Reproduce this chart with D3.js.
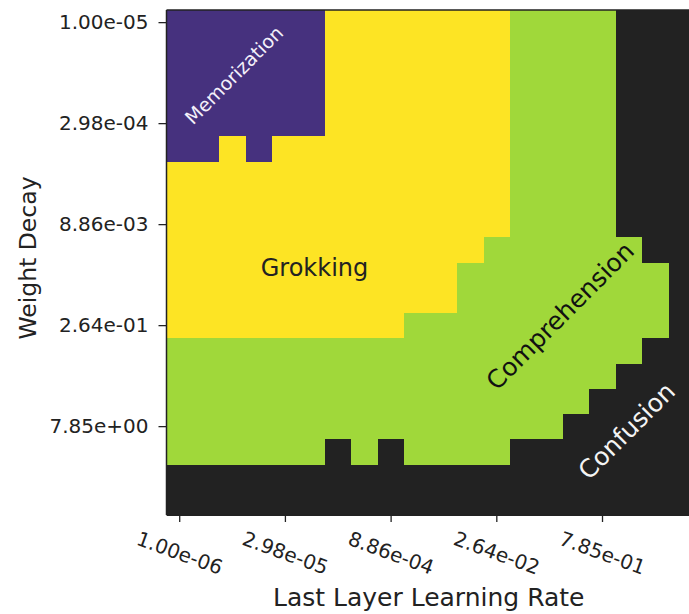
<!DOCTYPE html>
<html>
<head>
<meta charset="utf-8">
<script src="https://cdn.jsdelivr.net/npm/d3@7"></script>
<style>
  html, body { margin: 0; padding: 0; background: #fff; }
  svg { display: block; }
  text { font-family: "DejaVu Sans", sans-serif; }
</style>
</head>
<body>
<svg id="chart" width="689" height="614"></svg>
<script>
// Column values: last layer learning rate (20 log-spaced settings)
const learningRates = ["1.00e-06","2.34e-06","5.46e-06","1.27e-05","2.98e-05","6.95e-05","1.62e-04","3.79e-04",
  "8.86e-04","2.07e-03","4.83e-03","1.13e-02","2.64e-02","6.16e-02","1.44e-01","3.36e-01",
  "7.85e-01","1.83e+00","4.28e+00","1.00e+01"];
// Row values: weight decay (20 log-spaced settings)
const weightDecays = ["1.00e-05","2.34e-05","5.46e-05","1.27e-04","2.98e-04","6.95e-04","1.62e-03","3.79e-03",
  "8.86e-03","2.07e-02","4.83e-02","1.13e-01","2.64e-01","6.16e-01","1.44e+00","3.36e+00",
  "7.85e+00","1.83e+01","4.28e+01","1.00e+02"];
// Tick labels shown on the axes
const xTickLabels = ["1.00e-06","2.98e-05","8.86e-04","2.64e-02","7.85e-01"];
const yTickLabels = ["1.00e-05","2.98e-04","8.86e-03","2.64e-01","7.85e+00"];
// Phase codes: M = Memorization, G = Grokking, C = Comprehension, X = Confusion
const phaseCodes = ["M","G","C","X"];
const phaseNames = ["Memorization","Grokking","Comprehension","Confusion"];
// Phase of each (weight decay row, learning rate column)
const phaseGrid = [
  "MMMMMMGGGGGGGCCCCXXX",
  "MMMMMMGGGGGGGCCCCXXX",
  "MMMMMMGGGGGGGCCCCXXX",
  "MMMMMMGGGGGGGCCCCXXX",
  "MMMMMMGGGGGGGCCCCXXX",
  "MMGMGGGGGGGGGCCCCXXX",
  "GGGGGGGGGGGGGCCCCXXX",
  "GGGGGGGGGGGGGCCCCXXX",
  "GGGGGGGGGGGGGCCCCXXX",
  "GGGGGGGGGGGGCCCCCCXX",
  "GGGGGGGGGGGCCCCCCCCX",
  "GGGGGGGGGGGCCCCCCCCX",
  "GGGGGGGGGCCCCCCCCCCX",
  "CCCCCCCCCCCCCCCCCCXX",
  "CCCCCCCCCCCCCCCCCXXX",
  "CCCCCCCCCCCCCCCCXXXX",
  "CCCCCCCCCCCCCCCXXXXX",
  "CCCCCCXCXCCCCXXXXXXX",
  "XXXXXXXXXXXXXXXXXXXX",
  "XXXXXXXXXXXXXXXXXXXX"
];
// Phase region labels, positioned in cell units (column, row)
const labelNames = ["Memorization","Grokking","Comprehension","Confusion"];
const labelCol = [2.55, 5.6, 14.9, 17.42];
const labelRow = [2.57, 10.2, 12.12, 16.67];

const cells = [];
phaseGrid.forEach((row, ri) => {
  row.split("").forEach((code, ci) => {
    cells.push({ lr: learningRates[ci], wd: weightDecays[ri], phase: code });
  });
});

const svg = d3.select("#chart");
const pLeft = 166.5, pTop = 10, pRight = 695, pBottom = 515;

const x = d3.scaleBand().domain(learningRates).range([pLeft, pRight]).padding(0);
const y = d3.scaleBand().domain(weightDecays).range([pTop, pBottom]).padding(0);
const color = d3.scaleOrdinal().domain(phaseCodes).range(["#46317e", "#fde424", "#a0d83a", "#222222"]);
const xc = d3.scaleLinear().domain([0, learningRates.length]).range([pLeft, pRight]);
const yc = d3.scaleLinear().domain([0, weightDecays.length]).range([pTop, pBottom]);

svg.append("g").selectAll("rect").data(cells).join("rect")
  .attr("x", d => x(d.lr))
  .attr("y", d => y(d.wd))
  .attr("width", x.bandwidth() + 0.6)
  .attr("height", y.bandwidth() + 0.6)
  .attr("fill", d => color(d.phase))
  .attr("shape-rendering", "crispEdges");

// Axes
const xAxis = svg.append("g").attr("transform", `translate(0,${pBottom})`)
  .call(d3.axisBottom(x).tickValues(xTickLabels).tickSize(7).tickSizeOuter(0));
xAxis.select(".domain").remove();
xAxis.selectAll(".tick line").attr("stroke", "#222").attr("stroke-width", 1.3);
xAxis.selectAll(".tick text")
  .attr("font-size", 20).attr("fill", "#222")
  .attr("text-anchor", "middle")
  .attr("dy", null)
  .attr("y", null)
  .attr("dominant-baseline", "central")
  .attr("transform", "translate(0,38) rotate(20)");

const yAxis = svg.append("g").attr("transform", `translate(${pLeft},0)`)
  .call(d3.axisLeft(y).tickValues(yTickLabels).tickSize(8).tickPadding(10).tickSizeOuter(0));
yAxis.select(".domain").remove();
yAxis.selectAll(".tick line").attr("stroke", "#222").attr("stroke-width", 1.3);
yAxis.selectAll(".tick text").attr("font-size", 20).attr("fill", "#222");

// Spines
svg.append("line").attr("x1", pLeft).attr("x2", pLeft).attr("y1", pTop).attr("y2", pBottom)
  .attr("stroke", "#222").attr("stroke-width", 1.5);
svg.append("line").attr("x1", pLeft).attr("x2", pRight).attr("y1", pTop).attr("y2", pTop)
  .attr("stroke", "#222").attr("stroke-width", 1.5);
svg.append("line").attr("x1", pLeft).attr("x2", pRight).attr("y1", pBottom).attr("y2", pBottom)
  .attr("stroke", "#222").attr("stroke-width", 1.5);

// Axis titles
svg.append("text").attr("x", (pLeft + pRight) / 2 - 2).attr("y", 606)
  .attr("text-anchor", "middle").attr("font-size", 25).attr("fill", "#222")
  .text("Last Layer Learning Rate");
svg.append("text").attr("transform", "translate(36,258) rotate(-90)")
  .attr("text-anchor", "middle").attr("font-size", 23.5).attr("fill", "#222")
  .text("Weight Decay");

// Phase labels
const labelStyle = [
  { size: 19, fill: "#f4f0fa", rot: -45 },
  { size: 24, fill: "#222", rot: 0 },
  { size: 25, fill: "#111", rot: -45 },
  { size: 25, fill: "#f4f4f4", rot: -45 }
];
labelNames.forEach((name, i) => {
  svg.append("text")
    .attr("transform", `translate(${xc(labelCol[i])},${yc(labelRow[i])}) rotate(${labelStyle[i].rot})`)
    .attr("text-anchor", "middle").attr("dominant-baseline", "central")
    .attr("font-size", labelStyle[i].size).attr("fill", labelStyle[i].fill)
    .text(name);
});
</script>
</body>
</html>
